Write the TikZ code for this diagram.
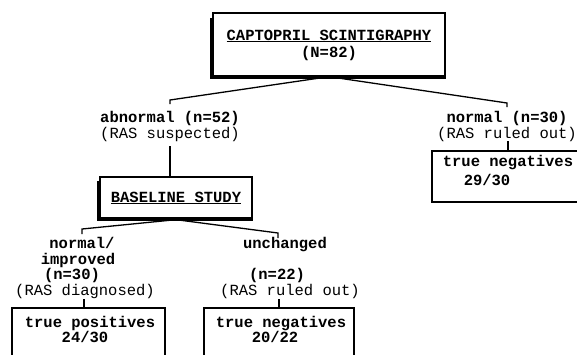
\documentclass[tikz,border=0pt]{standalone}
\usepackage{fontspec}
\setmonofont{Liberation Mono}
\begin{document}
\begin{tikzpicture}[x=1pt,y=-1pt,
  every node/.style={inner sep=0pt},
  rt/.style={anchor=base, font=\ttfamily\fontsize{15.5}{16}\selectfont},
  bt/.style={anchor=base, font=\ttfamily\bfseries\fontsize{15.5}{16}\selectfont},
  box/.style={draw, line width=1.3pt},
  shadowline/.style={line width=2.6pt},
  conn/.style={line width=1.3pt}]
\useasboundingbox (0,0) rectangle (577,354);
\clip (0,0) rectangle (577,354);
% top box
\node[box, minimum width=232pt, minimum height=63pt] (top) at (329,44.5) {};
\draw[shadowline] ([xshift=-1pt,yshift=-6pt]top.north west) -- ([xshift=-1pt,yshift=-1pt]top.south west) -- ([yshift=-1pt]top.south east);
\node[bt] (t1) at (329,40) {\underline{CAPTOPRIL SCINTIGRAPHY}};
\node[bt] (t2) at (329,57) {(N=82)};
% first level
\coordinate (kA) at (170,100);
\coordinate (kAe) at (170,104);
\coordinate (kB) at (507,103);
\coordinate (kBe) at (507,107);
\draw[conn] (top.south) -- (kA) -- (kAe);
\draw[conn] (top.south) -- (kB) -- (kBe);
\node[bt] (abn) at (170,122) {abnormal (n=52)};
\node[rt] (abn2) at (170,138) {(RAS suspected)};
\node[bt] (nor) at (507,122) {normal (n=30)};
\node[rt] (nor2) at (507,138) {(RAS ruled out)};
% right box
\node[box, minimum width=158pt, minimum height=51pt] (rbox) at (511,176.5) {};
\coordinate (r1) at (508,141);
\draw[conn] (r1) -- (rbox.north -| r1);
\node[bt] (rb1) at (508,166) {true negatives};
\node[bt] (rb2) at (487,185) {29/30};
% baseline box
\coordinate (a1) at (170,146);
\node[box, minimum width=152pt, minimum height=41pt] (base) at (176,197.5) {};
\draw[shadowline] ([xshift=-1pt,yshift=-5pt]base.north west) -- ([xshift=-1pt,yshift=-1pt]base.south west) -- ([yshift=-1pt]base.south east);
\draw[conn] (a1) -- (base.north -| a1);
\node[bt] (b1) at (176,202) {\underline{BASELINE STUDY}};
% second level
\coordinate (kC) at (82,229);
\coordinate (kCe) at (82,234);
\coordinate (kD) at (278,233);
\coordinate (kDe) at (278,238);
\draw[conn] ([yshift=-1pt]base.south) -- (kC) -- (kCe);
\draw[conn] ([yshift=-1pt]base.south) -- (kD) -- (kDe);
\node[bt] (n1) at (82,248) {normal/};
\node[bt] (n2) at (78,264) {improved};
\node[bt] (n3) at (72,279) {(n=30)};
\node[rt] (n4) at (85,295.5) {(RAS diagnosed)};
\node[bt] (u1) at (285,248) {unchanged};
\node[bt] (u2) at (277,279) {(n=22)};
\node[rt] (u3) at (290,295.5) {(RAS ruled out)};
% bottom boxes
\node[box, minimum width=153pt, minimum height=70pt] (lbox) at (88.5,343) {};
\node[box, minimum width=150pt, minimum height=70pt] (mbox) at (279,343) {};
\coordinate (l1) at (84,299);
\coordinate (m1) at (279,299);
\draw[conn] (l1) -- (lbox.north -| l1);
\draw[conn] (m1) -- (mbox.north -| m1);
\node[bt] (lb1) at (90,327) {true positives};
\node[bt] (lb2) at (85,342) {24/30};
\node[bt] (mb1) at (281,327) {true negatives};
\node[bt] (mb2) at (275,342) {20/22};
\end{tikzpicture}
\end{document}
